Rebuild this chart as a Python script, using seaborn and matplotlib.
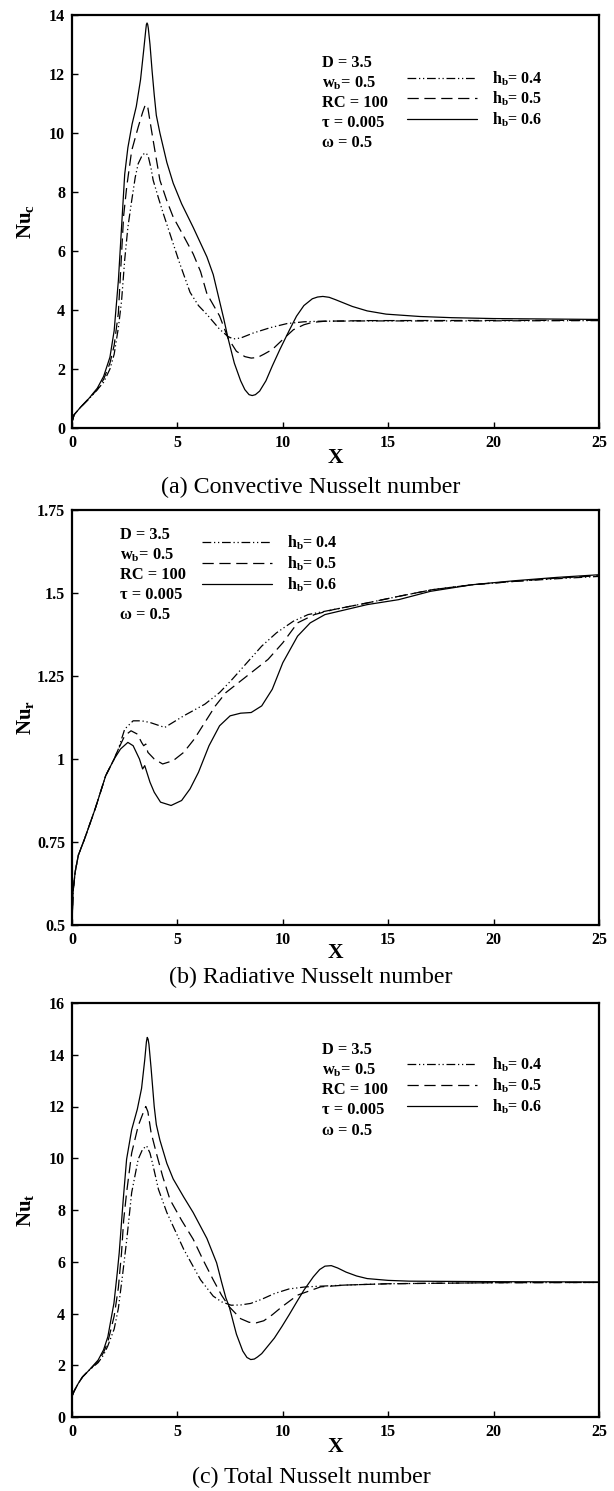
import matplotlib
matplotlib.use("Agg")
import matplotlib.pyplot as plt
import seaborn as sns
import pandas as pd
from matplotlib.lines import Line2D

# ---------------- data ----------------
# (a) Convective Nusselt number
a_x_04 = [0, 0.1, 0.4, 0.8, 1.2, 1.5, 1.8, 2.0, 2.2, 2.35, 2.5, 2.65, 2.83, 3.0, 3.14, 3.3, 3.42, 3.52, 3.62, 3.75, 3.85, 4.1, 4.33, 4.8, 5.1, 5.4, 5.6, 6.0, 6.4, 7.0, 7.4, 7.65, 8.0, 8.6, 9.4, 10.2, 11.0, 11.75, 14, 18, 25]
a_y_04 = [0.2, 0.45, 0.7, 0.98, 1.3, 1.55, 2.0, 2.5, 3.4, 4.3, 5.7, 6.8, 7.7, 8.5, 8.96, 9.2, 9.3, 9.32, 9.2, 8.8, 8.4, 7.8, 7.27, 6.25, 5.6, 5.0, 4.6, 4.15, 3.85, 3.35, 3.1, 3.02, 3.05, 3.22, 3.4, 3.54, 3.6, 3.62, 3.63, 3.63, 3.64]
a_x_05 = [0, 0.1, 0.4, 0.8, 1.2, 1.5, 1.8, 2.0, 2.2, 2.35, 2.45, 2.6, 2.83, 3.14, 3.35, 3.45, 3.52, 3.6, 3.7, 3.85, 4.17, 4.5, 4.8, 5.3, 5.75, 6.1, 6.4, 7.0, 7.4, 7.8, 8.2, 8.5, 8.8, 9.1, 9.5, 10.0, 10.5, 11.0, 11.4, 12, 14, 25]
a_y_05 = [0.2, 0.45, 0.7, 1.0, 1.3, 1.65, 2.2, 2.8, 3.9, 5.9, 7.2, 8.2, 9.4, 10.2, 10.7, 10.9, 10.97, 10.85, 10.4, 9.75, 8.4, 7.7, 7.15, 6.5, 5.9, 5.3, 4.55, 3.8, 3.05, 2.6, 2.42, 2.37, 2.39, 2.5, 2.66, 3.0, 3.33, 3.5, 3.58, 3.62, 3.64, 3.65]
a_x_06 = [0, 0.1, 0.4, 0.8, 1.2, 1.5, 1.8, 2.0, 2.2, 2.35, 2.5, 2.65, 2.85, 3.05, 3.25, 3.4, 3.5, 3.53, 3.56, 3.59, 3.62, 3.7, 3.8, 3.9, 4.0, 4.17, 4.5, 4.8, 5.2, 5.75, 6.4, 6.7, 7.0, 7.2, 7.4, 7.7, 8.0, 8.2, 8.4, 8.55, 8.7, 8.9, 9.2, 9.5, 9.86, 10.3, 10.65, 11.0, 11.4, 11.65, 11.9, 12.2, 12.5, 13.3, 14.0, 14.9, 16.5, 18, 20, 25]
a_y_06 = [0.2, 0.45, 0.7, 1.0, 1.35, 1.75, 2.4, 3.3, 5.0, 6.8, 8.6, 9.5, 10.3, 10.9, 11.8, 12.8, 13.5, 13.68, 13.73, 13.68, 13.55, 13.0, 12.1, 11.3, 10.6, 10.0, 9.0, 8.3, 7.6, 6.8, 5.8, 5.2, 4.3, 3.7, 3.05, 2.2, 1.6, 1.3, 1.13, 1.1, 1.13, 1.25, 1.6, 2.1, 2.66, 3.3, 3.79, 4.15, 4.38, 4.44, 4.46, 4.43, 4.35, 4.12, 3.97, 3.86, 3.78, 3.74, 3.71, 3.68]

# (b) Radiative Nusselt number
b_x_04 = [0, 0.05, 0.15, 0.3, 0.6, 1.1, 1.6, 2.0, 2.2, 2.5, 2.9, 3.3, 3.7, 4.4, 5.3, 6.3, 7.0, 7.6, 8.3, 9.0, 9.7, 10.5, 11.2, 12.0, 12.4, 14, 15.5, 17.1, 19, 21, 23, 25]
b_y_04 = [0.5, 0.6, 0.66, 0.71, 0.76, 0.85, 0.95, 1.0, 1.03, 1.09, 1.115, 1.115, 1.11, 1.095, 1.13, 1.165, 1.2, 1.24, 1.29, 1.34, 1.38, 1.415, 1.435, 1.445, 1.45, 1.47, 1.49, 1.51, 1.525, 1.535, 1.543, 1.55]
b_x_05 = [0, 0.05, 0.15, 0.3, 0.6, 1.1, 1.6, 2.0, 2.2, 2.5, 2.8, 3.1, 3.3, 3.4, 3.5, 3.6, 3.9, 4.3, 4.8, 5.3, 5.8, 6.2, 6.8, 7.3, 8.3, 9.3, 10.0, 10.7, 11.5, 12.4, 14, 15.5, 17.1, 19, 21, 23, 25]
b_y_05 = [0.5, 0.6, 0.66, 0.71, 0.76, 0.85, 0.95, 1.0, 1.03, 1.07, 1.085, 1.075, 1.05, 1.04, 1.045, 1.02, 1.0, 0.985, 0.995, 1.02, 1.06, 1.1, 1.16, 1.2, 1.25, 1.3, 1.35, 1.41, 1.435, 1.45, 1.47, 1.49, 1.51, 1.525, 1.535, 1.545, 1.552]
b_x_06 = [0, 0.05, 0.15, 0.3, 0.6, 1.1, 1.6, 2.0, 2.3, 2.65, 2.9, 3.2, 3.35, 3.45, 3.55, 3.7, 3.9, 4.2, 4.7, 5.2, 5.6, 6.0, 6.5, 7.0, 7.5, 8.0, 8.5, 9.0, 9.5, 10.0, 10.7, 11.3, 12.0, 13, 14, 15.5, 17, 19, 21, 23, 25]
b_y_06 = [0.5, 0.6, 0.66, 0.71, 0.76, 0.85, 0.95, 1.0, 1.03, 1.05, 1.04, 1.0, 0.97, 0.98, 0.96, 0.93, 0.9, 0.87, 0.86, 0.875, 0.91, 0.96, 1.04, 1.1, 1.13, 1.138, 1.14, 1.16, 1.21, 1.29, 1.37, 1.41, 1.435, 1.45, 1.465, 1.48, 1.505, 1.525, 1.537, 1.547, 1.555]

# (c) Total Nusselt number
c_x_04 = [0, 0.1, 0.3, 0.5, 0.8, 1.24, 1.5, 1.7, 2.0, 2.2, 2.4, 2.6, 2.83, 3.14, 3.35, 3.54, 3.7, 3.85, 4.1, 4.5, 5.3, 6.1, 6.7, 7.1, 7.55, 8.0, 8.48, 9.0, 9.6, 10.3, 11.1, 13, 15, 20, 25]
c_y_04 = [0.8, 1.0, 1.3, 1.55, 1.8, 2.1, 2.4, 2.75, 3.4, 4.2, 5.5, 6.87, 8.67, 9.96, 10.35, 10.48, 10.2, 9.7, 8.8, 7.9, 6.48, 5.3, 4.67, 4.45, 4.32, 4.33, 4.39, 4.55, 4.77, 4.95, 5.03, 5.1, 5.15, 5.19, 5.2]
c_x_05 = [0, 0.1, 0.3, 0.5, 0.8, 1.24, 1.5, 1.7, 2.0, 2.2, 2.35, 2.45, 2.59, 2.83, 3.14, 3.35, 3.5, 3.6, 3.75, 4.0, 4.3, 4.65, 5.2, 5.75, 6.2, 6.7, 7.1, 7.46, 8.0, 8.4, 8.75, 9.1, 9.5, 9.96, 10.7, 11.8, 13, 15, 20, 25]
c_y_05 = [0.8, 1.0, 1.3, 1.55, 1.8, 2.15, 2.5, 2.9, 3.9, 5.0, 6.35, 7.6, 8.67, 10.2, 11.25, 11.7, 12.0, 11.8, 11.0, 10.2, 9.3, 8.4, 7.6, 6.87, 6.1, 5.3, 4.7, 4.26, 3.8, 3.66, 3.64, 3.72, 3.95, 4.26, 4.71, 5.03, 5.1, 5.15, 5.19, 5.2]
c_x_06 = [0, 0.1, 0.3, 0.5, 0.8, 1.24, 1.5, 1.7, 1.99, 2.15, 2.24, 2.43, 2.59, 2.83, 3.1, 3.3, 3.45, 3.53, 3.57, 3.61, 3.65, 3.75, 3.9, 4.0, 4.17, 4.5, 4.8, 5.3, 5.75, 6.4, 6.86, 7.1, 7.3, 7.46, 7.8, 8.1, 8.3, 8.48, 8.65, 8.8, 9.0, 9.3, 9.6, 9.96, 10.3, 10.7, 11.0, 11.45, 11.75, 12.0, 12.3, 12.6, 13.0, 13.5, 14.0, 15, 16, 20, 25]
c_y_06 = [0.8, 1.0, 1.3, 1.55, 1.8, 2.2, 2.6, 3.1, 4.4, 5.6, 6.35, 8.4, 9.96, 11.1, 11.9, 12.7, 13.8, 14.5, 14.67, 14.6, 14.4, 13.5, 12.0, 11.3, 10.7, 9.8, 9.2, 8.5, 7.9, 6.9, 5.96, 5.2, 4.6, 4.26, 3.2, 2.55, 2.3, 2.22, 2.24, 2.32, 2.45, 2.75, 3.05, 3.5, 3.95, 4.5, 4.9, 5.42, 5.7, 5.83, 5.85, 5.76, 5.6, 5.45, 5.35, 5.28, 5.25, 5.23, 5.22]

series_labels = ["0.4", "0.5", "0.6"]
x_ticks = [0, 5, 10, 15, 20, 25]
a_yticks = [0, 2, 4, 6, 8, 10, 12, 14]
b_yticks = [0.5, 0.75, 1.0, 1.25, 1.5, 1.75]
b_yticklabels = ["0.5", "0.75", "1", "1.25", "1.5", "1.75"]
c_yticks = [0, 2, 4, 6, 8, 10, 12, 14, 16]
params_text = ["D = 3.5", r"w$_\mathbf{b}$= 0.5", "RC = 100", "\u03c4 = 0.005", "\u03c9 = 0.5"]
ylabels = [r"Nu$_\mathbf{c}$", r"Nu$_\mathbf{r}$", r"Nu$_\mathbf{t}$"]
captions = ["(a) Convective Nusselt number", "(b) Radiative Nusselt number", "(c) Total Nusselt number"]

# ---------------- style ----------------
sns.set_theme(style="white")
plt.rcParams["font.family"] = ["Liberation Serif", "DejaVu Serif"]
plt.rcParams["mathtext.fontset"] = "custom"
plt.rcParams["mathtext.rm"] = "Liberation Serif:bold"
plt.rcParams["mathtext.bf"] = "Liberation Serif:bold"
plt.rcParams["mathtext.it"] = "Liberation Serif:bold"
for key in ["text.color", "axes.labelcolor", "xtick.color", "ytick.color", "axes.edgecolor"]:
    plt.rcParams[key] = "black"

dash_map = {"0.4": (7, 2.2, 1, 2.2, 1, 2.2), "0.5": (9, 4.5), "0.6": ""}


def make_df(xs, ys):
    frames = []
    for lab, x, y in zip(series_labels, xs, ys):
        assert len(x) == len(y)
        frames.append(pd.DataFrame({"X": x, "Nu": y, "hb": lab}))
    return pd.concat(frames, ignore_index=True)


W, H = 614, 1491
fig = plt.figure(figsize=(W / 100, H / 100), dpi=100)

panels = [
    dict(df=make_df([a_x_04, a_x_05, a_x_06], [a_y_04, a_y_05, a_y_06]),
         top=15, bot=428, xl=458, cap=487, ylim=(0, 14), yt=a_yticks, ytl=[str(v) for v in a_yticks],
         txt=(0.474, 0.884), leg=(0.636, 0.869)),
    dict(df=make_df([b_x_04, b_x_05, b_x_06], [b_y_04, b_y_05, b_y_06]),
         top=510, bot=925, xl=953, cap=977, ylim=(0.5, 1.75), yt=b_yticks, ytl=b_yticklabels,
         txt=(0.091, 0.940), leg=(0.247, 0.942)),
    dict(df=make_df([c_x_04, c_x_05, c_x_06], [c_y_04, c_y_05, c_y_06]),
         top=1003, bot=1417, xl=1447, cap=1477, ylim=(0, 16), yt=c_yticks, ytl=[str(v) for v in c_yticks],
         txt=(0.474, 0.886), leg=(0.636, 0.872)),
]

left, right = 72, 599
for i, p in enumerate(panels):
    ax = fig.add_axes([left / W, 1 - p["bot"] / H, (right - left) / W, (p["bot"] - p["top"]) / H])
    sns.lineplot(data=p["df"], x="X", y="Nu", hue="hb", style="hb",
                 palette=["black"] * 3, dashes=dash_map, sort=False, estimator=None,
                 linewidth=0.9, legend=False, ax=ax)
    ax.set_xlim(0, 25)
    ax.set_ylim(*p["ylim"])
    ax.set_xticks(x_ticks)
    ax.set_xticklabels([str(v) for v in x_ticks])
    ax.set_yticks(p["yt"])
    ax.set_yticklabels(p["ytl"])
    ax.tick_params(direction="in", length=4.5, width=1.0, labelsize=11.5, pad=5, colors="black",
                   bottom=True, left=True)
    for lbl in ax.get_xticklabels() + ax.get_yticklabels():
        lbl.set_fontweight("bold")
    for s in ax.spines.values():
        s.set_linewidth(1.6)
        s.set_color("black")
    ax.set_xlabel("")
    ax.set_ylabel("")
    fig.text(25 / W, 1 - (p["top"] + p["bot"]) / 2 / H, ylabels[i], rotation=90, ha="center", va="center",
             fontsize=15, fontweight="bold")
    fig.text((left + right) / 2 / W, 1 - p["xl"] / H, "X", ha="center", va="center",
             fontsize=15.5, fontweight="bold")
    fig.text(311 / W, 1 - p["cap"] / H, captions[i], ha="center", va="center",
             fontsize=17.3)

    tx, ty = p["txt"]
    for k, t in enumerate(params_text):
        ax.text(tx, ty - k * 0.0485, t, transform=ax.transAxes, ha="left", va="center",
                fontsize=11.8, fontweight="bold")

    handles = []
    for s in series_labels:
        h = Line2D([], [], color="black", lw=0.9, linestyle="-")
        if dash_map[s]:
            h.set_dashes(dash_map[s])
        handles.append(h)
    labs = [r"h$_\mathbf{b}$= " + s for s in series_labels]
    ax.legend(handles, labs, loc="upper left", bbox_to_anchor=p["leg"], frameon=False,
              handlelength=4.4, handletextpad=0.9, labelspacing=0.15, borderpad=0,
              borderaxespad=0, prop={"family": "Liberation Serif", "weight": "bold", "size": 11.5})

fig.savefig("out.png", dpi=100, facecolor="white")
